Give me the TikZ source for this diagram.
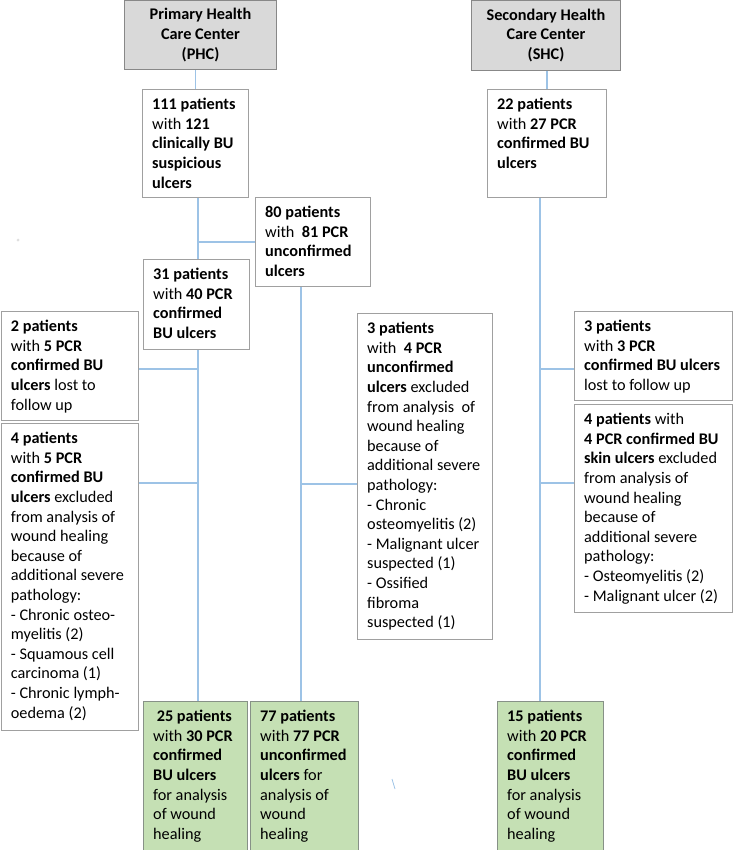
\documentclass[tikz,border=0pt]{standalone}
\usepackage{fontspec}
\setmainfont{Carlito}
\definecolor{linkblue}{RGB}{157,195,230}
\definecolor{bord}{RGB}{160,160,160}
\definecolor{hdrfill}{RGB}{217,217,217}
\definecolor{grnfill}{RGB}{197,224,180}
\definecolor{grnbord}{RGB}{135,145,135}
\tikzset{
  boxbase/.style={draw=bord, line width=1pt, fill=white, rectangle, inner sep=0pt, anchor=north west},
  hdr/.style={boxbase, fill=hdrfill, draw=bord!85!black},
  plain/.style={boxbase},
  grn/.style={boxbase, fill=grnfill, draw=grnbord},
  txt/.style={inner sep=0pt, align=left, anchor=north west, font=\fontsize{16.25}{19.6}\selectfont},
  htxt/.style={inner sep=0pt, align=center, font=\fontsize{16.25}{19.6}\selectfont\bfseries},
  link/.style={draw=linkblue, line width=1.1pt},
}
\newcommand{\mybox}[7]{%
  \node[#2, minimum width={(#5-#3)*1pt}, minimum height={(#6-#4)*1pt}] (#1) at (#3,#4) {};
  \node[txt] (#1t) at ([xshift=10pt,yshift=-6.8pt]#1.north west) {\strut#7};
}
\newcommand{\hdrbox}[6]{%
  \node[hdr, minimum width={(#4-#2)*1pt}, minimum height={(#5-#3)*1pt}] (#1) at (#2,#3) {};
  \node[htxt] (#1t) at (#1.center) {#6};
}
\begin{document}
\begin{tikzpicture}[x=1pt,y=-1pt]
\useasboundingbox (0,0) rectangle (733,850);
% headers
\hdrbox{phc}{124}{0}{276}{69}{Primary Health\\Care Center\\(PHC)}
\hdrbox{shc}{471}{0}{620}{70}{Secondary Health\\Care Center\\(SHC)}
% PHC column
\mybox{b111}{plain}{142}{89}{248}{197}{\textbf{111 patients}\\with \textbf{121}\\\textbf{clinically BU}\\\textbf{suspicious}\\\textbf{ulcers}}
\mybox{b80}{plain}{255}{197}{370}{286}{\textbf{80 patients}\\with~~\textbf{81 PCR}\\\textbf{unconfirmed}\\\textbf{ulcers}}
\mybox{b31}{plain}{143}{259}{249}{349}{\textbf{31 patients}\\with \textbf{40 PCR}\\\textbf{confirmed}\\\textbf{BU ulcers}}
\mybox{left1}{plain}{0.7}{311}{138}{420}{\textbf{2 patients}\\with \textbf{5 PCR}\\\textbf{confirmed BU}\\\textbf{ulcers} lost to\\follow up}
\mybox{left2}{plain}{0.7}{423}{138}{730}{\textbf{4 patients}\\with \textbf{5 PCR}\\\textbf{confirmed BU}\\\textbf{ulcers} excluded\\from analysis of\\wound healing\\because of\\additional severe\\pathology:\\- Chronic osteo-\\myelitis (2)\\- Squamous cell\\carcinoma (1)\\- Chronic lymph-\\oedema (2)}
\mybox{mid}{plain}{357}{313}{492}{639}{\textbf{3 patients}\\with~~\textbf{4 PCR}\\\textbf{unconfirmed}\\\textbf{ulcers} excluded\\from analysis~~of\\wound healing\\because of\\additional severe\\pathology:\\- Chronic\\osteomyelitis (2)\\- Malignant ulcer\\suspected (1)\\- Ossified\\fibroma\\suspected (1)}
% SHC column
\mybox{b22}{plain}{487}{89}{606}{197}{\textbf{22 patients}\\with \textbf{27 PCR}\\\textbf{confirmed BU}\\\textbf{ulcers}}
\mybox{r1}{plain}{574}{311}{732}{400}{\textbf{3 patients}\\with \textbf{3 PCR}\\\textbf{confirmed BU ulcers}\\lost to follow up}
\mybox{r2}{plain}{574}{404}{732}{612}{\textbf{4 patients} with\\\textbf{4 PCR confirmed BU}\\\textbf{skin ulcers} excluded\\from analysis of\\wound healing\\because of\\additional severe\\pathology:\\- Osteomyelitis (2)\\- Malignant ulcer (2)}
% outcome boxes
\mybox{g25}{grn}{143}{701}{247}{851}{\hspace*{3.6pt}\textbf{25 patients}\\with \textbf{30 PCR}\\\textbf{confirmed}\\\textbf{BU ulcers}\\for analysis\\of wound\\healing}
\mybox{g77}{grn}{250}{701}{358}{851}{\textbf{77 patients}\\with \textbf{77 PCR}\\\textbf{unconfirmed}\\\textbf{ulcers} for\\analysis of\\wound\\healing}
\mybox{g15}{grn}{497}{701}{603}{851}{\textbf{15 patients}\\with \textbf{20 PCR}\\\textbf{confirmed}\\\textbf{BU ulcers}\\for analysis\\of wound\\healing}
% trunks
\coordinate (tr1) at (198,0);
\coordinate (tr2) at (301,0);
\coordinate (tr3) at (540,0);
\draw[link] (b111.north) -- (b111.north |- phc.south);
\draw[link] (b22.north) -- (b22.north |- shc.south);
\draw[link] (tr1 |- b111.south) -- (tr1 |- b31.north);
\draw[link] (tr1 |- b80.west) -- (b80.west);
\draw[link] (tr1 |- b31.south) -- (tr1 |- g25.north);
\draw[link] (left1.east |- 0,369) -- (tr1 |- 0,369);
\draw[link] (left2.east |- 0,483) -- (tr1 |- 0,483);
\draw[link] (tr2 |- b80.south) -- (tr2 |- g77.north);
\draw[link] (tr2 |- 0,484) -- (mid.west |- 0,484);
\draw[link] (tr3 |- b22.south) -- (tr3 |- g15.north);
\draw[link] (tr3 |- 0,369) -- (r1.west |- 0,369);
\draw[link] (tr3 |- 0,483) -- (r2.west |- 0,483);
% stray marks
\coordinate (s1) at (392,779);
\coordinate (s2) at (395,789);
\draw[linkblue, line width=0.8pt] (s1) -- (s2);
\fill[gray!25] (18,240) circle (1.5);
\end{tikzpicture}
\end{document}
